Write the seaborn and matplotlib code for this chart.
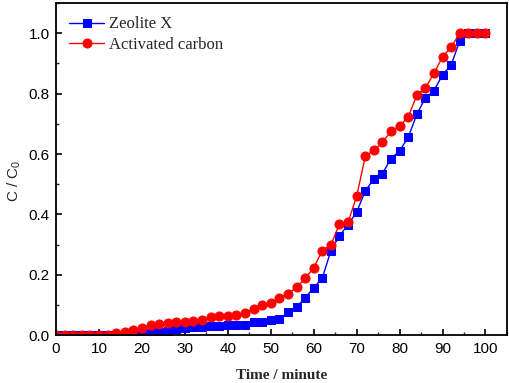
import numpy as np
import pandas as pd
import matplotlib
matplotlib.use("Agg")
import matplotlib.pyplot as plt
import seaborn as sns
from matplotlib.ticker import MultipleLocator

time = list(range(0, 101, 2))

zeolite = [0, 0, 0, 0, 0, 0, 0, 0, 0, 0, 0,
           0.006, 0.009, 0.015, 0.020, 0.025, 0.027, 0.027, 0.031, 0.031, 0.033,
           0.033, 0.035, 0.042, 0.043, 0.050, 0.054, 0.075, 0.092, 0.124, 0.157,
           0.189, 0.280, 0.329, 0.366, 0.408, 0.477, 0.518, 0.535, 0.585, 0.611,
           0.655, 0.731, 0.786, 0.810, 0.862, 0.895, 0.974, 1.0, 1.0, 1.0]

carbon = [0, 0, 0, 0, 0, 0, 0, 0.006, 0.012, 0.018, 0.022,
          0.033, 0.037, 0.039, 0.042, 0.042, 0.047, 0.050, 0.061, 0.062, 0.065,
          0.067, 0.074, 0.088, 0.100, 0.107, 0.122, 0.137, 0.158, 0.188, 0.223,
          0.280, 0.299, 0.368, 0.374, 0.460, 0.592, 0.612, 0.639, 0.675, 0.692,
          0.723, 0.794, 0.819, 0.867, 0.922, 0.954, 1.0, 1.0, 1.0, 1.0]

sns.set_style("ticks")
plt.rcParams["font.family"] = ["Liberation Sans", "DejaVu Sans"]

fig = plt.figure(figsize=(5.1, 3.83), dpi=100)
ax = fig.add_axes([0.110, 0.125, 0.884, 0.867])

sns.lineplot(x=time, y=zeolite, ax=ax, color="#0000ff", marker="s", markersize=5.5,
             markeredgecolor="#0000ff", linewidth=1, label="Zeolite X")
sns.lineplot(x=time, y=carbon, ax=ax, color="#ff0000", marker="o", markersize=6.5,
             markeredgecolor="#ff0000", linewidth=1, label="Activated carbon")

ax.set_xlim(0, 105)
ax.set_ylim(0, 1.1)
ax.set_xticks([0, 10, 20, 30, 40, 50, 60, 70, 80, 90, 100])
ax.set_yticks([0.0, 0.2, 0.4, 0.6, 0.8, 1.0])
ax.set_yticklabels(["0.0", "0.2", "0.4", "0.6", "0.8", "1.0"])
ax.xaxis.set_minor_locator(MultipleLocator(5))
ax.yaxis.set_minor_locator(MultipleLocator(0.1))
ax.tick_params(which="major", direction="in", length=4, width=1.2, labelsize=11, colors="black")
ax.tick_params(axis="x", which="major", pad=5)
ax.tick_params(axis="y", which="major", pad=4.5)
ax.tick_params(which="minor", direction="in", length=2.5, width=1.0)

for s in ax.spines.values():
    s.set_linewidth(1.3)
    s.set_color("black")

ax.set_xlabel("Time / minute", family=["Liberation Serif"], fontweight="bold", fontsize=11, labelpad=9)
ax.set_ylabel("C / C$_\\mathregular{0}$", fontsize=11)
ax.yaxis.set_label_coords(-0.074, 0.464)

leg = ax.legend(loc="upper left", frameon=False, prop={"family": "Liberation Serif", "size": 12},
                handlelength=2.1, handletextpad=0.3, labelspacing=0.25, borderaxespad=0.5,
                borderpad=0.3)

fig.savefig("out.png", dpi=100)
